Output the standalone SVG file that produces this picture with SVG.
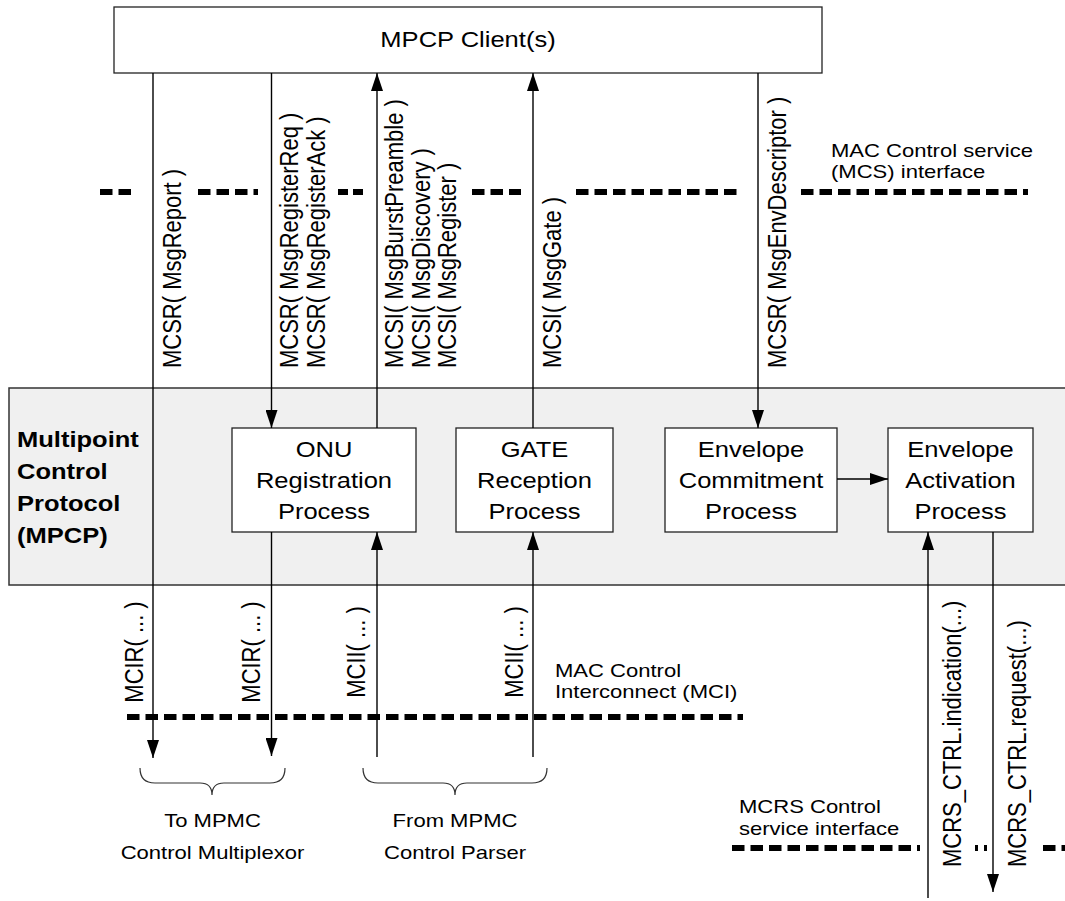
<svg xmlns="http://www.w3.org/2000/svg" width="1065" height="901" viewBox="0 0 1065 901">
<style>
.t{font-family:"Liberation Sans",Arial,Helvetica,sans-serif;font-size:22px;fill:#000}
.s{font-size:19px}
.b{font-weight:bold}
.box{fill:#fff;stroke:#222;stroke-width:1.3}
.ln{stroke:#000;stroke-width:1.4;fill:none}
.dash{stroke:#000;stroke-width:6;stroke-dasharray:12.5 6;fill:none}
.brace{stroke:#333;stroke-width:1.2;fill:none}
</style>
<defs>
<marker id="ah" viewBox="0 0 18 12" refX="18" refY="6" markerWidth="18" markerHeight="12" markerUnits="userSpaceOnUse" orient="auto">
<path d="M0,0 L18,6 L0,12 z" fill="#000"/>
</marker>
</defs>
<rect width="1065" height="901" fill="#fff"/>

<g id="mpcp-region">
<rect x="9" y="388" width="1070" height="197" fill="#f0f0f0" stroke="#333" stroke-width="1.5"/>
<text class="t b" transform="translate(17,447) scale(1.16,1)"><tspan x="0" y="0">Multipoint</tspan><tspan x="0" y="32">Control</tspan><tspan x="0" y="64">Protocol</tspan><tspan x="0" y="96">(MPCP)</tspan></text>
</g>

<g id="interfaces">
<path class="dash" d="M100,192 H133 M198,192 H258 M472,192 H521 M576,192 H741 M801,192 H1028"/>
<path class="dash" style="stroke-dasharray:10 5" d="M338,192 H363"/>
<path class="dash" d="M127,717 H743"/>
<path class="dash" d="M732,848 H920 M1043,848 H1065"/>
<rect x="975" y="845" width="3" height="6" fill="#000"/>
<rect x="984" y="845" width="3" height="6" fill="#000"/>
<text class="t s" transform="translate(831,157) scale(1.16,1)"><tspan x="0" y="0">MAC Control service</tspan><tspan x="0" y="21">(MCS) interface</tspan></text>
<text class="t s" transform="translate(555,677) scale(1.16,1)"><tspan x="0" y="0">MAC Control</tspan><tspan x="0" y="21">Interconnect (MCI)</tspan></text>
<text class="t s" transform="translate(739,813) scale(1.16,1)"><tspan x="0" y="0">MCRS Control</tspan><tspan x="0" y="22">service interface</tspan></text>
</g>

<g id="mpcp-client">
<rect class="box" x="114" y="7" width="708" height="66"/>
<text class="t" text-anchor="middle" transform="translate(468,47) scale(1.16,1)">MPCP Client(s)</text>
</g>

<g id="onu-registration">
<rect class="box" x="232" y="428" width="184" height="104"/>
<text class="t" text-anchor="middle" transform="translate(324,457) scale(1.16,1)"><tspan x="0" y="0">ONU</tspan><tspan x="0" y="31">Registration</tspan><tspan x="0" y="62">Process</tspan></text>
</g>

<g id="gate-reception">
<rect class="box" x="456" y="428" width="157" height="104"/>
<text class="t" text-anchor="middle" transform="translate(534.5,457) scale(1.16,1)"><tspan x="0" y="0">GATE</tspan><tspan x="0" y="31">Reception</tspan><tspan x="0" y="62">Process</tspan></text>
</g>

<g id="envelope-commitment">
<rect class="box" x="665" y="428" width="172" height="104"/>
<text class="t" text-anchor="middle" transform="translate(751,457) scale(1.16,1)"><tspan x="0" y="0">Envelope</tspan><tspan x="0" y="31">Commitment</tspan><tspan x="0" y="62">Process</tspan></text>
</g>

<g id="envelope-activation">
<rect class="box" x="888" y="428" width="145" height="104"/>
<text class="t" text-anchor="middle" transform="translate(960.5,457) scale(1.16,1)"><tspan x="0" y="0">Envelope</tspan><tspan x="0" y="31">Activation</tspan><tspan x="0" y="62">Process</tspan></text>
</g>

<g id="connectors">
<path class="ln" marker-end="url(#ah)" d="M153,73 V758"/>
<path class="ln" marker-end="url(#ah)" d="M271.5,73 V428"/>
<path class="ln" marker-end="url(#ah)" d="M271.5,532 V756"/>
<path class="ln" marker-end="url(#ah)" d="M377,428 V73"/>
<path class="ln" marker-end="url(#ah)" d="M377,757 V532"/>
<path class="ln" marker-end="url(#ah)" d="M533,428 V73"/>
<path class="ln" marker-end="url(#ah)" d="M533,757 V532"/>
<path class="ln" marker-end="url(#ah)" d="M758,73 V428"/>
<path class="ln" marker-end="url(#ah)" d="M837,479 H888"/>
<path class="ln" marker-end="url(#ah)" d="M928,898 V532"/>
<path class="ln" marker-end="url(#ah)" d="M993,532 V892"/>

<text class="t" transform="translate(181,368) scale(1.16,1) rotate(-90)">MCSR( MsgReport )</text>
<text class="t" transform="translate(298,368) scale(1.16,1) rotate(-90)"><tspan x="0" y="0">MCSR( MsgRegisterReq )</tspan><tspan x="0" y="23.3">MCSR( MsgRegisterAck )</tspan></text>
<text class="t" transform="translate(403,368) scale(1.16,1) rotate(-90)"><tspan x="0" y="0">MCSI( MsgBurstPreamble )</tspan><tspan x="0" y="23">MCSI( MsgDiscovery )</tspan><tspan x="0" y="46">MCSI( MsgRegister )</tspan></text>
<text class="t" transform="translate(561,368) scale(1.16,1) rotate(-90)">MCSI( MsgGate )</text>
<text class="t" transform="translate(786,368) scale(1.16,1) rotate(-90)">MCSR( MsgEnvDescriptor )</text>

<text class="t" text-anchor="middle" transform="translate(143,652) scale(1.16,1) rotate(-90)">MCIR( ... )</text>
<text class="t" text-anchor="middle" transform="translate(260,652) scale(1.16,1) rotate(-90)">MCIR( ... )</text>
<text class="t" text-anchor="middle" transform="translate(365,652) scale(1.16,1) rotate(-90)">MCII( ... )</text>
<text class="t" text-anchor="middle" transform="translate(523,652) scale(1.16,1) rotate(-90)">MCII( ... )</text>
<text class="t" transform="translate(961,867) scale(1.16,1) rotate(-90)">MCRS_CTRL.indication(...)</text>
<text class="t" transform="translate(1026,867) scale(1.16,1) rotate(-90)">MCRS_CTRL.request(...)</text>
</g>

<g id="brace-mux">
<path class="brace" d="M140,768 Q140,783 155,783 L200,783 Q212,783 212,795 Q212,783 224,783 L270,783 Q285,783 285,768"/>
<text class="t s" text-anchor="middle" transform="translate(212.5,827) scale(1.16,1)"><tspan x="0" y="0">To MPMC</tspan><tspan x="0" y="32">Control Multiplexor</tspan></text>
</g>

<g id="brace-parser">
<path class="brace" d="M363,768 Q363,783 378,783 L443,783 Q455,783 455,795 Q455,783 467,783 L532,783 Q547,783 547,768"/>
<text class="t s" text-anchor="middle" transform="translate(455,827) scale(1.16,1)"><tspan x="0" y="0">From MPMC</tspan><tspan x="0" y="32">Control Parser</tspan></text>
</g>
</svg>
